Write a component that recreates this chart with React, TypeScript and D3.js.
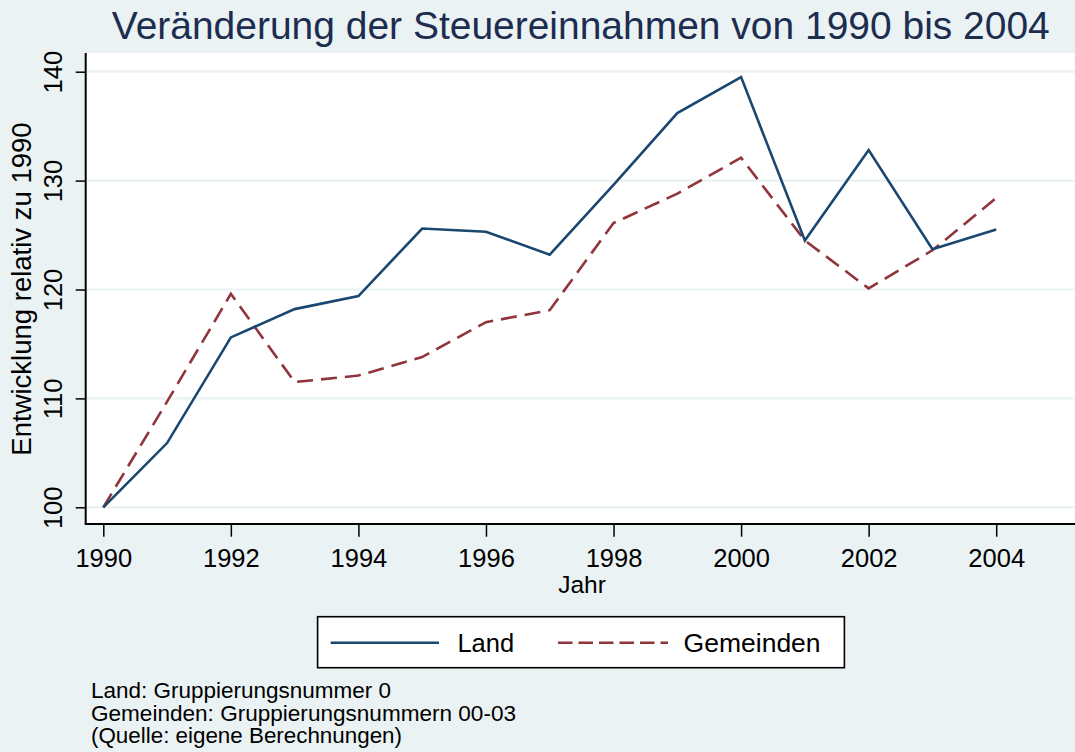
import React, { useRef, useEffect } from 'react'
import { select, scaleLinear, axisBottom, axisLeft, line } from 'd3'

// data
const years = [1990, 1991, 1992, 1993, 1994, 1995, 1996, 1997, 1998, 1999, 2000, 2001, 2002, 2003, 2004]
const land = [100, 105.9, 115.6, 118.2, 119.4, 125.6, 125.3, 123.2, 129.6, 136.2, 139.5, 124.5, 132.8, 123.7, 125.5]
const gemeinden = [100, 109.7, 119.6, 111.5, 112.1, 113.8, 117.0, 118.1, 126.1, 128.8, 132.1, 124.5, 120.1, 123.6, 128.4]
const xTicks = [1990, 1992, 1994, 1996, 1998, 2000, 2002, 2004]
const yTicks = [100, 110, 120, 130, 140]
const notes = [
  'Land: Gruppierungsnummer 0',
  'Gemeinden: Gruppierungsnummern 00-03',
  '(Quelle: eigene Berechnungen)',
]
const noteWidths = [300, 425, 311]

const W = 1075
const H = 752
const plotLeft = 85.7
const plotTop = 53
const plotBottom = 524
const bg = '#eaf2f3'
const navy = '#1a476f'
const maroon = '#90353b'
const font = "'Liberation Sans', Arial, sans-serif"

export default function App() {
  const xAxisRef = useRef(null)
  const yAxisRef = useRef(null)

  const x = scaleLinear().domain([1990, 2004]).range([103.3, 996.2])
  const y = scaleLinear().domain([100, 140]).range([507.3, 71.7])

  useEffect(() => {
    const xAxis = axisBottom(x).tickValues(xTicks).tickSize(12.7).tickFormat((d) => String(d))
    const gx = select(xAxisRef.current)
    gx.call(xAxis)
    gx.select('.domain').remove()
    gx.selectAll('.tick line').attr('stroke', '#000').attr('stroke-width', 1.5)
    gx.selectAll('.tick text')
      .attr('y', 42.7)
      .attr('dy', 0)
      .attr('fill', '#000')
      .style('font-size', '25.5px')
      .style('font-family', font)

    const yAxis = axisLeft(y).tickValues(yTicks).tickSize(10).tickFormat((d) => String(d))
    const gy = select(yAxisRef.current)
    gy.call(yAxis)
    gy.select('.domain').remove()
    gy.selectAll('.tick line').attr('stroke', '#000').attr('stroke-width', 1.5)
    gy.selectAll('.tick text')
      .attr('x', 0)
      .attr('dy', 0)
      .attr('text-anchor', 'middle')
      .attr('transform', 'translate(-24,0) rotate(-90)')
      .attr('fill', '#000')
      .style('font-size', '25.5px')
      .style('font-family', font)
  }, [])

  const makeLine = line<number>()
    .x((_, i) => x(years[i]))
    .y((d) => y(d))

  return (
    <div style={{ position: 'absolute', left: 0, top: 0 }}>
      <svg width={W} height={H} style={{ display: 'block' }}>
        <rect x={0} y={0} width={W} height={H} fill={bg} />
        <text
          x={580.8}
          y={38.5}
          textAnchor="middle"
          fontFamily={font}
          fontSize={38.5}
          fill="#1c2d50"
          textLength={938}
          lengthAdjust="spacingAndGlyphs"
        >
          Veränderung der Steuereinnahmen von 1990 bis 2004
        </text>

        {/* plot region */}
        <rect x={plotLeft} y={plotTop} width={W - plotLeft} height={plotBottom - plotTop} fill="#fff" />
        {yTicks.map((t) => (
          <line key={t} x1={plotLeft} x2={W} y1={y(t)} y2={y(t)} stroke={bg} strokeWidth={2.2} />
        ))}

        <path d={makeLine(gemeinden) || ''} fill="none" stroke={maroon} strokeWidth={2.6} strokeDasharray="16 8" strokeLinejoin="miter" />
        <path d={makeLine(land) || ''} fill="none" stroke={navy} strokeWidth={2.6} strokeLinejoin="miter" />

        {/* axes */}
        <line x1={plotLeft} x2={plotLeft} y1={plotTop} y2={plotBottom} stroke="#000" strokeWidth={2} />
        <line x1={plotLeft - 1} x2={W} y1={plotBottom} y2={plotBottom} stroke="#000" strokeWidth={2} />
        <g ref={xAxisRef} transform={`translate(0,${plotBottom})`} />
        <g ref={yAxisRef} transform={`translate(${plotLeft},0)`} />

        <text x={582} y={593} textAnchor="middle" fontFamily={font} fontSize={24.5} fill="#000">
          Jahr
        </text>
        <text
          transform="translate(31,289) rotate(-90)"
          textAnchor="middle"
          fontFamily={font}
          fontSize={27.5}
          fill="#000"
        >
          Entwicklung relativ zu 1990
        </text>

        {/* legend */}
        <rect x={317.6} y={616.7} width={526.8} height={51} fill="#fff" stroke="#000" strokeWidth={1.6} />
        <line x1={330.7} x2={439} y1={642.7} y2={642.7} stroke={navy} strokeWidth={2.6} />
        <text x={457.4} y={651.7} fontFamily={font} fontSize={25.5} fill="#000">
          Land
        </text>
        <line x1={558} x2={668} y1={642.7} y2={642.7} stroke={maroon} strokeWidth={2.6} strokeDasharray="14.5 6" />
        <text x={683.6} y={651.7} fontFamily={font} fontSize={26.5} fill="#000">
          Gemeinden
        </text>

        {notes.map((n, i) => (
          <text
            key={n}
            x={91}
            y={698 + i * 22.5}
            fontFamily={font}
            fontSize={21.5}
            fill="#000"
            textLength={noteWidths[i]}
            lengthAdjust="spacingAndGlyphs"
          >
            {n}
          </text>
        ))}
      </svg>
    </div>
  )
}
